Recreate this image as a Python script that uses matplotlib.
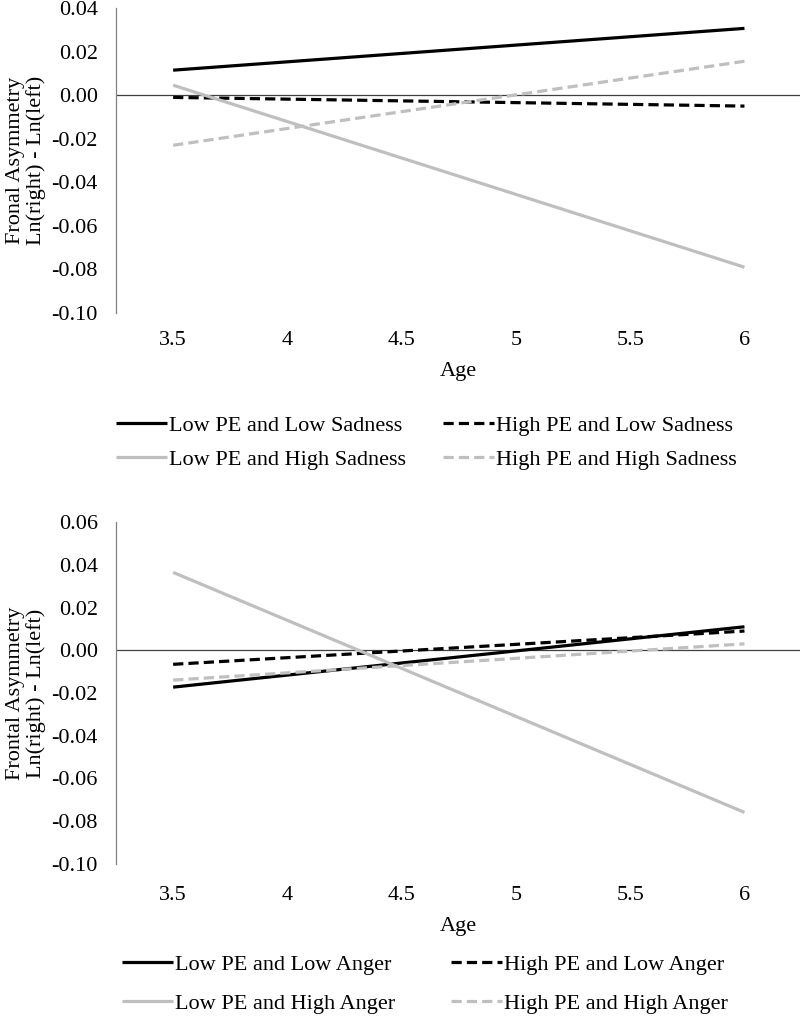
import matplotlib.pyplot as plt

# data
ages = [3.5, 6]

sad_labels = ["Low PE and Low Sadness", "High PE and Low Sadness",
              "Low PE and High Sadness", "High PE and High Sadness"]
sad_lowpe_lowsad = [0.0115, 0.0307]
sad_highpe_lowsad = [-0.0010, -0.0050]
sad_lowpe_highsad = [0.0046, -0.0790]
sad_highpe_highsad = [-0.0230, 0.0156]

ang_labels = ["Low PE and Low Anger", "High PE and Low Anger",
              "Low PE and High Anger", "High PE and High Anger"]
ang_lowpe_lowang = [-0.0173, 0.0110]
ang_highpe_lowang = [-0.0066, 0.0090]
ang_lowpe_highang = [0.0365, -0.0760]
ang_highpe_highang = [-0.0140, 0.0030]

xticks = [3.5, 4, 4.5, 5, 5.5, 6]
xticklabels = ["3.5", "4", "4.5", "5", "5.5", "6"]

plt.rcParams['font.family'] = ['Liberation Serif', 'DejaVu Serif']
plt.rcParams['font.size'] = 16

GRAY = '#BFBFBF'
styles = [dict(color='black', ls='-'),
          dict(color='black', ls=(0, (3.2, 1.6))),
          dict(color=GRAY, ls='-'),
          dict(color=GRAY, ls=(0, (3.2, 1.6)))]

fig = plt.figure(figsize=(8, 10.16), dpi=100)
W, H = 800.0, 1016.0


def draw_panel(ax, series, labels, ylim, yticks, ylabel, xpad,
               leg_x, leg_top, colsp, rowsp):
    lines = []
    for vals, lab, st in zip(series, labels, styles):
        ln, = ax.plot(ages, vals, lw=2.3, label=lab, solid_capstyle='butt', **st)
        lines.append(ln)
    ax.axhline(0, color='#404040', lw=0.9, zorder=0)
    ax.set_xlim(3.25, 6.25)
    ax.set_ylim(*ylim)
    ax.set_yticks(yticks)
    ax.set_yticklabels(["%.2f" % v for v in yticks])
    ax.set_xticks(xticks)
    ax.set_xticklabels(xticklabels)
    for s in ['top', 'right', 'bottom']:
        ax.spines[s].set_visible(False)
    ax.spines['left'].set_color('#808080')
    ax.spines['left'].set_linewidth(0.9)
    ax.tick_params(axis='both', length=0)
    ax.tick_params(axis='x', pad=xpad)
    ax.tick_params(axis='y', pad=13)
    ax.set_xlabel("Age", labelpad=8.6)
    ax.set_ylabel(ylabel, labelpad=4, linespacing=1.1)
    # row-major order like the reference
    order = [0, 2, 1, 3]
    ax.legend([lines[i] for i in order], [labels[i] for i in order],
              loc='upper left', bbox_to_anchor=(leg_x / W, 1 - leg_top / H),
              bbox_transform=fig.transFigure, ncol=2, frameon=False,
              borderpad=0, handlelength=2.3, handletextpad=0.1,
              columnspacing=colsp, labelspacing=rowsp)


ax1 = fig.add_axes([0.145, 0.692, 0.857, 0.300])
draw_panel(ax1,
           [sad_lowpe_lowsad, sad_highpe_lowsad, sad_lowpe_highsad, sad_highpe_highsad],
           sad_labels, (-0.10, 0.04), [-0.10, -0.08, -0.06, -0.04, -0.02, 0.00, 0.02, 0.04],
           "Fronal Asymmetry\nLn(right) - Ln(left)", 13, 105, 404, 1.65, 0.6)

ax2 = fig.add_axes([0.145, 0.150, 0.857, 0.336])
draw_panel(ax2,
           [ang_lowpe_lowang, ang_highpe_lowang, ang_lowpe_highang, ang_highpe_highang],
           ang_labels, (-0.10, 0.06), [-0.10, -0.08, -0.06, -0.04, -0.02, 0.00, 0.02, 0.04, 0.06],
           "Frontal Asymmetry\nLn(right) - Ln(left)", 16, 111, 943, 2.5, 0.85)

fig.savefig("out.png", dpi=100)
